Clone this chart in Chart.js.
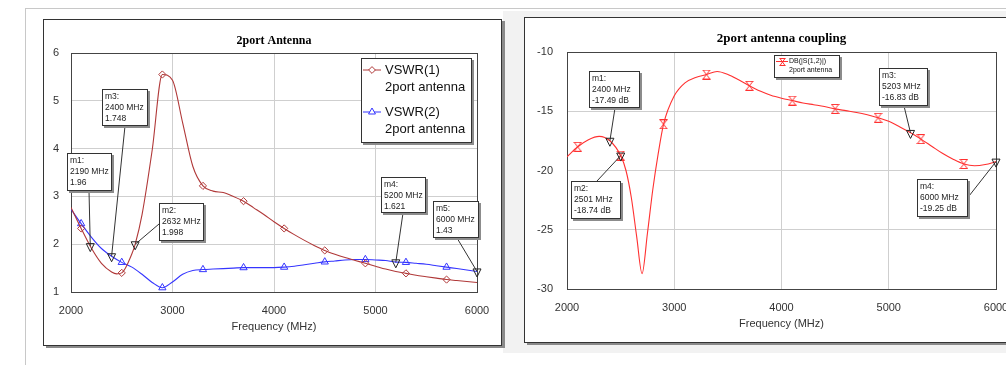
<!DOCTYPE html>
<html><head><meta charset="utf-8">
<script src="https://cdn.jsdelivr.net/npm/chart.js@4.4.1/dist/chart.umd.min.js"></script>
<style>
html,body{margin:0;padding:0;background:#fff;width:1006px;height:365px;overflow:hidden;position:relative;font-family:"Liberation Sans",Arial,sans-serif}
#hline{position:absolute;left:25px;top:8px;width:981px;height:1px;background:#c8c8c8}
#vline{position:absolute;left:25px;top:8px;width:1px;height:357px;background:#c8c8c8}
#gray{position:absolute;left:503px;top:11px;width:503px;height:342px;background:#f2f2f2}
.frame{position:absolute;border:1px solid #333;background:#fff;box-shadow:3px 2px 0 #8a8a8a}
#f1{left:43px;top:19px;width:457px;height:325px}
#f2{left:524px;top:17px;width:486px;height:324px}
canvas{display:block}
</style></head>
<body>
<div id="hline"></div><div id="vline"></div><div id="gray"></div>
<div class="frame" id="f1"><canvas id="c1" width="457" height="325"></canvas></div>
<div class="frame" id="f2"><canvas id="c2" width="486" height="324"></canvas></div>
<script>
// ---------- data ----------
const xTicks = [2000, 3000, 4000, 5000, 6000];
const vswrTicks = [1, 2, 3, 4, 5, 6];
const s12Ticks = [-30, -25, -20, -15, -10];

const vswrFreq1 = [2000,2100,2200,2300,2400,2450,2500,2600,2632,2700,2800,2900,3000,3100,3200,3300,3400,3500,3600,3700,3800,3900,4000,4100,4200,4300,4400,4500,4600,4700,4800,4900,5000,5100,5200,5300,5400,5500,5600,5700,5800,5900,6000];
const vswr1 = [2.77,2.33,1.92,1.60,1.42,1.38,1.40,1.80,1.998,2.62,3.97,5.55,5.43,4.54,3.63,3.22,3.11,3.08,3.0,2.9,2.76,2.62,2.47,2.33,2.2,2.08,1.97,1.87,1.79,1.72,1.66,1.6,1.54,1.48,1.43,1.39,1.35,1.32,1.29,1.26,1.24,1.22,1.2];

const vswrFreq2 = [2000,2100,2200,2300,2400,2500,2600,2700,2800,2900,3000,3100,3200,3300,3400,3500,3600,3700,3800,3900,4000,4100,4200,4300,4400,4500,4600,4700,4800,4900,5000,5100,5200,5300,5400,5500,5600,5700,5800,5900,6000];
const vswr2 = [2.73,2.43,2.15,1.91,1.748,1.62,1.52,1.37,1.2,1.09,1.21,1.37,1.45,1.47,1.48,1.49,1.5,1.51,1.51,1.51,1.51,1.52,1.54,1.57,1.6,1.63,1.65,1.67,1.68,1.68,1.67,1.66,1.625,1.62,1.6,1.58,1.55,1.52,1.49,1.46,1.43];

const s12Freq = [2000,2100,2200,2300,2400,2500,2550,2600,2650,2700,2750,2800,2850,2900,3000,3100,3200,3300,3400,3500,3600,3700,3800,3900,4000,4100,4200,4300,4400,4500,4600,4700,4800,4900,5000,5100,5200,5300,5400,5500,5600,5700,5800,5900,6000];
const s12 = [-18.84,-18.0,-17.4,-17.12,-17.49,-18.74,-20.0,-22.3,-25.6,-28.7,-25.3,-21.6,-18.6,-16.1,-13.7,-12.6,-12.15,-11.9,-11.65,-11.9,-12.35,-12.85,-13.3,-13.65,-13.9,-14.1,-14.3,-14.45,-14.6,-14.8,-14.95,-15.1,-15.3,-15.55,-15.85,-16.3,-16.8,-17.35,-17.95,-18.55,-19.05,-19.45,-19.6,-19.5,-19.25];

const symbolFreqs = [2100,2500,2900,3300,3700,4100,4500,4900,5300,5700];

const vswrMarkerNames = ['m1','m2','m3','m4','m5'];
const vswrMarkerFreqs = [2190, 2632, 2400, 5200, 6000];
const vswrMarkerVals = ['1.96','1.998','1.748','1.621','1.43'];

const s12MarkerNames = ['m1','m2','m3','m4'];
const s12MarkerFreqs = [2400, 2501, 5203, 6000];
const s12MarkerVals = ['-17.49','-18.74','-16.83','-19.25'];

const vswrLegend = ['VSWR(1)', 'VSWR(2)'];
const s12Legend = ['DB(|S(1,2)|)'];
const setupName = '2port antenna';

// ---------- layout (pixel boxes for marker labels, canvas coords) ----------
const vswrBoxes = [
  {x:23, y:133, w:45, h:38, ax:45, ay:171},
  {x:115, y:183, w:45, h:38, ax:115, ay:204},
  {x:58, y:69, w:46, h:37, ax:81, ay:106},
  {x:337, y:157, w:45, h:36, ax:359, ay:193},
  {x:389, y:181, w:46, h:37, ax:413, ay:218}
];
const s12Boxes = [
  {x:64, y:53, w:51, h:37, ax:90, ay:90},
  {x:46, y:163, w:50, h:38, ax:72, ay:163},
  {x:354, y:50, w:49, h:38, ax:379, ay:88},
  {x:392, y:161, w:51, h:38, ax:444, ay:178}
];

const FONT = '"Liberation Sans", Arial, sans-serif';
const RED1 = '#b03838', BLUE = '#3535ff', RED2 = '#ff3030';

// hourglass symbol
function hourglass(color, w, h){
  const c = document.createElement('canvas'); c.width = w; c.height = h;
  const g = c.getContext('2d'); g.strokeStyle = color; g.lineWidth = 1;
  g.beginPath();
  g.moveTo(0.5, 0.5); g.lineTo(w-0.5, 0.5);
  g.moveTo(0.5, h-0.5); g.lineTo(w-0.5, h-0.5);
  g.moveTo(1, 0.5); g.lineTo(w-1, h-0.5);
  g.moveTo(w-1, 0.5); g.lineTo(1, h-0.5);
  g.stroke();
  return c;
}
const hg = hourglass(RED2, 9, 10);
const hgSmall = hourglass(RED2, 7, 8);

function pts(f, v){ return f.map((x,i)=>({x:x, y:v[i]})); }
const isSym = ctx => ctx.raw && symbolFreqs.includes(ctx.raw.x);

function drawBox(ctx, x, y, w, h){
  ctx.fillStyle = '#8c8c8c'; ctx.fillRect(x+2, y+2, w, h);
  ctx.fillStyle = '#fff'; ctx.fillRect(x, y, w, h);
  ctx.strokeStyle = '#333'; ctx.lineWidth = 1;
  ctx.strokeRect(x+0.5, y+0.5, w-1, h-1);
}

function makeDecor(cfg){
  return {
    id: 'decor',
    beforeDatasetsDraw(chart){
      const {ctx, chartArea:a} = chart;
      ctx.save(); ctx.strokeStyle = '#444'; ctx.lineWidth = 1;
      ctx.strokeRect(Math.round(a.left)+0.5, Math.round(a.top)+0.5, Math.round(a.right-a.left), Math.round(a.bottom-a.top));
      ctx.restore();
    },
    afterDatasetsDraw(chart){
      const {ctx, chartArea:a, scales:{x, y}} = chart;
      ctx.save();
      ctx.fillStyle = '#000'; ctx.textAlign = 'center'; ctx.textBaseline = 'middle';
      ctx.font = cfg.titleFont;
      ctx.fillText(cfg.title, (a.left+a.right)/2, cfg.titleY);
      // markers
      cfg.names.forEach((n, i) => {
        const b = cfg.boxes[i];
        const px = x.getPixelForValue(cfg.freqs[i]);
        const py = y.getPixelForValue(parseFloat(cfg.vals[i]));
        ctx.strokeStyle = '#333'; ctx.lineWidth = 1;
        ctx.beginPath(); ctx.moveTo(b.ax, b.ay); ctx.lineTo(px, py); ctx.stroke();
        drawBox(ctx, b.x, b.y, b.w, b.h);
        ctx.fillStyle = '#222'; ctx.textAlign = 'left'; ctx.textBaseline = 'middle';
        ctx.font = '8.5px ' + FONT;
        const lines = [n + ':', cfg.freqs[i] + ' MHz', cfg.vals[i] + cfg.unit];
        lines.forEach((t, k) => ctx.fillText(t, b.x + 3, b.y + 8 + k*11));
        ctx.strokeStyle = '#222';
        ctx.beginPath(); ctx.moveTo(px-4, py-2.5); ctx.lineTo(px+4, py-2.5); ctx.lineTo(px, py+5.5); ctx.closePath(); ctx.stroke();
      });
      cfg.legend(ctx, chart);
      ctx.restore();
    }
  };
}

function scales(yMin, yMax, yTicks, yWidth, yPad){
  const tickFont = {family: FONT, size: 11};
  return {
    x: {
      type: 'linear', min: 2000, max: 6000,
      afterBuildTicks: s => { s.ticks = xTicks.map(v => ({value: v})); },
      grid: {color: '#cfcfcf', drawTicks: false, lineWidth: 1},
      border: {display: false},
      ticks: {padding: 12, color: '#333', font: tickFont, maxRotation: 0, autoSkip: false, callback: v => String(v)},
      title: {display: true, text: 'Frequency (MHz)', color: '#333', font: {family: FONT, size: 11}, padding: {top: 0, bottom: 11}},
      afterFit: s => { s.height = 53; s.paddingLeft = 0; s.paddingRight = 0; }
    },
    y: {
      type: 'linear', min: yMin, max: yMax,
      afterBuildTicks: s => { s.ticks = yTicks.map(v => ({value: v})); },
      grid: {color: '#cfcfcf', drawTicks: false, lineWidth: 1},
      border: {display: false},
      ticks: {padding: yPad, color: '#333', font: tickFont, autoSkip: false, callback: v => String(v)},
      afterFit: s => { s.width = yWidth; s.paddingTop = 0; s.paddingBottom = 0; }
    }
  };
}

// ---------- left chart ----------
new Chart(document.getElementById('c1'), {
  type: 'line',
  data: {
    datasets: [
      {label: vswrLegend[0], data: pts(vswrFreq1, vswr1), borderColor: RED1, borderWidth: 1.1,
       cubicInterpolationMode: 'monotone', fill: false,
       pointStyle: 'rectRot', pointRadius: c => isSym(c) ? 3.6 : 0, pointBorderColor: RED1,
       pointBackgroundColor: 'rgba(255,255,255,0)', pointBorderWidth: 1},
      {label: vswrLegend[1], data: pts(vswrFreq2, vswr2), borderColor: BLUE, borderWidth: 1.1,
       cubicInterpolationMode: 'monotone', fill: false,
       pointStyle: 'triangle', pointRadius: c => isSym(c) ? 4.2 : 0, pointBorderColor: BLUE,
       pointBackgroundColor: 'rgba(255,255,255,0)', pointBorderWidth: 1}
    ]
  },
  options: {
    responsive: false, animation: false,
    layout: {padding: {top: 33, right: 24, left: 0, bottom: 0}},
    plugins: {legend: {display: false}, tooltip: {enabled: false}, title: {display: false}},
    scales: scales(1, 6, vswrTicks, 27, 12)
  },
  plugins: [makeDecor({
    title: '2port Antenna', titleFont: 'bold 12px "Liberation Serif", "Times New Roman", serif', titleY: 21,
    names: vswrMarkerNames, freqs: vswrMarkerFreqs, vals: vswrMarkerVals, unit: '', boxes: vswrBoxes,
    legend: (ctx, chart) => {
      drawBox(ctx, 317, 38, 111, 85);
      const ds = chart.data.datasets;
      [50, 92].forEach((ly, i) => {
        ctx.strokeStyle = ds[i].borderColor; ctx.lineWidth = 1;
        ctx.beginPath(); ctx.moveTo(319, ly); ctx.lineTo(337, ly); ctx.stroke();
        ctx.fillStyle = 'rgba(255,255,255,1)';
        Chart.helpers.drawPoint(ctx, {pointStyle: i === 0 ? 'rectRot' : 'triangle', radius: i === 0 ? 3.4 : 4, borderWidth: 1, rotation: 0}, 328, ly);
        ctx.fillStyle = '#111'; ctx.textAlign = 'left'; ctx.textBaseline = 'middle';
        ctx.font = '13px ' + FONT;
        ctx.fillText(ds[i].label, 341, ly);
        ctx.fillText(setupName, 341, ly + 17);
      });
    }
  })]
});

// ---------- right chart ----------
new Chart(document.getElementById('c2'), {
  type: 'line',
  data: {
    datasets: [
      {label: s12Legend[0], data: pts(s12Freq, s12), borderColor: RED2, borderWidth: 1.1,
       cubicInterpolationMode: 'monotone', fill: false,
       pointStyle: c => isSym(c) ? hg : 'circle', pointRadius: c => isSym(c) ? 4 : 0}
    ]
  },
  options: {
    responsive: false, animation: false,
    layout: {padding: {top: 34, right: 15, left: 0, bottom: 0}},
    plugins: {legend: {display: false}, tooltip: {enabled: false}, title: {display: false}},
    scales: scales(-30, -10, s12Ticks, 42, 14)
  },
  plugins: [makeDecor({
    title: '2port antenna coupling', titleFont: 'bold 13px "Liberation Serif", "Times New Roman", serif', titleY: 21,
    names: s12MarkerNames, freqs: s12MarkerFreqs, vals: s12MarkerVals, unit: ' dB', boxes: s12Boxes,
    legend: (ctx, chart) => {
      drawBox(ctx, 249, 37, 66, 23);
      const ds = chart.data.datasets;
      ctx.strokeStyle = ds[0].borderColor; ctx.lineWidth = 1;
      ctx.beginPath(); ctx.moveTo(251, 43.5); ctx.lineTo(263, 43.5); ctx.stroke();
      ctx.drawImage(hgSmall, 254, 40);
      ctx.fillStyle = '#111'; ctx.textAlign = 'left'; ctx.textBaseline = 'middle';
      ctx.font = '7px ' + FONT;
      ctx.fillText(ds[0].label, 264, 43);
      ctx.fillText(setupName, 264, 52);
    }
  })]
});
</script>
</body></html>
